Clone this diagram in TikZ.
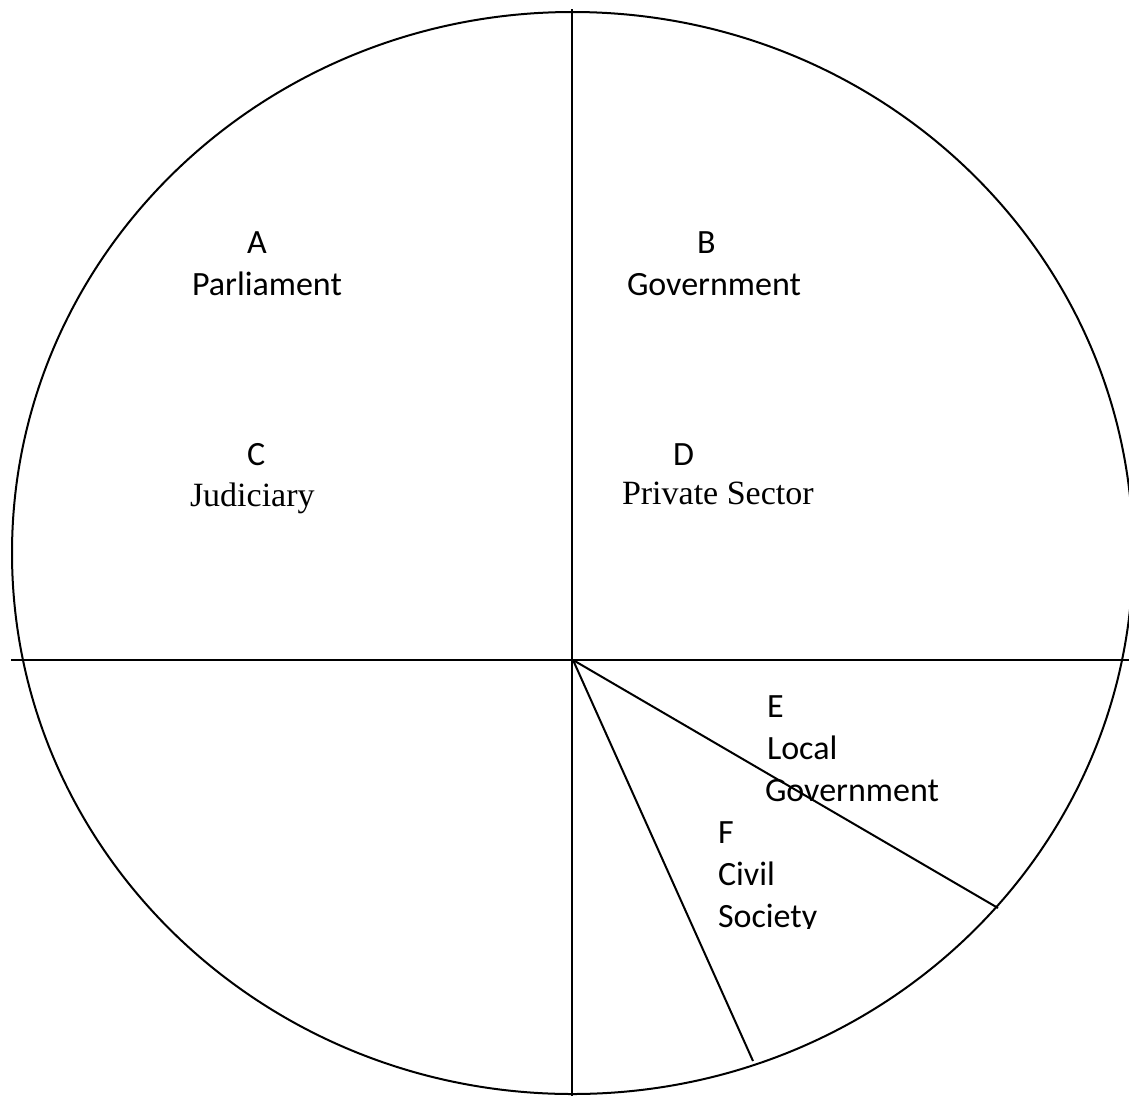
\documentclass[tikz,border=0pt]{standalone}
\usepackage{fontspec}
\setmainfont{Carlito}
\newfontfamily\timesf{Liberation Serif}
\begin{document}
\begin{tikzpicture}[x=1pt,y=-1pt,
  ln/.style={line width=2pt,black},
  lbl/.style={anchor=base west,inner sep=0pt,outer sep=0pt,font=\fontsize{34}{41}\selectfont},
  tlbl/.style={anchor=base west,inner sep=0pt,outer sep=0pt,font=\timesf\fontsize{34}{41}\selectfont}]
\useasboundingbox (0,0) rectangle (1129,1095);
\clip (0,0) rectangle (1129,1095);
\draw[ln] (572.5,553) ellipse [x radius=560.5, y radius=541];
\coordinate (hl) at (11,660);
\coordinate (hr) at (1135,660);
\coordinate (vt) at (572,9);
\coordinate (vb) at (572,1100);
\coordinate (o) at (573,660);
\coordinate (e1) at (998,908);
\coordinate (e2) at (753,1061);
\draw[ln] (hl) -- (hr);
\draw[ln] (vt) -- (vb);
\draw[ln] (o) -- (e1);
\draw[ln] (o) -- (e2);
\node[lbl] (A) at (247,253) {A};
\node[lbl] (Ap) at (192,295) {Parliament};
\node[lbl] (B) at (697,253) {B};
\node[lbl] (Bg) at (627,295) {Government};
\node[lbl] (C) at (247,465) {C};
\node[tlbl] (Cj) at (190,506) {Judiciary};
\node[lbl] (D) at (673,465) {D};
\node[tlbl] (Dp) at (622,504) {Private Sector};
\node[lbl] (E) at (767,717) {E};
\node[lbl] (El) at (767,759) {Local};
\node[lbl] (Eg) at (765,801) {Government};
\node[lbl] (F) at (718,843) {F};
\node[lbl] (Fc) at (718,885) {Civil};
\begin{scope}
\clip (600,890) rectangle (900,928);
\node[lbl] (Fs) at (718,927) {Society};
\end{scope}
\end{tikzpicture}
\end{document}
